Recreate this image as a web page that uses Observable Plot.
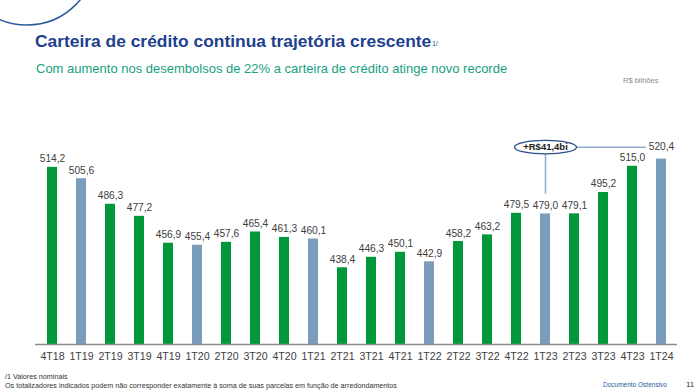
<!DOCTYPE html>
<html>
<head>
<meta charset="utf-8">
<script src="https://cdn.jsdelivr.net/npm/d3@7"></script>
<script src="https://cdn.jsdelivr.net/npm/@observablehq/plot@0.6"></script>
<style>
  html, body { margin: 0; padding: 0; background: #fff; }
  body { width: 700px; height: 391px; position: relative; overflow: hidden;
         font-family: "Liberation Sans", Arial, sans-serif; }
  .abs { position: absolute; line-height: 1; white-space: nowrap; }
  #title { left: 35px; top: 33px; font-size: 17.4px; font-weight: bold; color: #213f8d; }
  #title sup { font-size: 6.5px; font-weight: normal; vertical-align: 0; position: relative; top: -1px; margin-left: 1px; }
  #subtitle { left: 36px; top: 61.7px; font-size: 13px; color: #17a07f; }
  #unit { left: 623px; top: 77px; font-size: 7.5px; color: #8a8a8a; }
  #chart { position: absolute; left: 0; top: 88px; }
  #note1 { left: 5px; top: 372.5px; font-size: 7.2px; color: #333; }
  #note2 { left: 5px; top: 381.5px; font-size: 7.2px; color: #333; }
  #doc { left: 603px; top: 382px; font-size: 6.5px; color: #2a5aa0; }
  #page { left: 686px; top: 381px; font-size: 8px; color: #333; }
</style>
</head>
<body>
<svg class="abs" width="100" height="30" style="left:0;top:0">
  <circle cx="27" cy="-43.7" r="68.7" fill="none" stroke="#2d5aa0" stroke-width="1.5"></circle>
</svg>
<div id="title" class="abs">Carteira de crédito continua trajetória crescente<sup>1/</sup></div>
<div id="subtitle" class="abs">Com aumento nos desembolsos de 22% a carteira de crédito atinge novo recorde</div>
<div id="unit" class="abs">R$ bilhões</div>
<div id="chart"></div>
<div id="note1" class="abs">/1 Valores nominais</div>
<div id="note2" class="abs">Os totalizadores indicados podem não corresponder exatamente à soma de suas parcelas em função de arredondamentos</div>
<div id="doc" class="abs">Documento Ostensivo</div>
<div id="page" class="abs">11</div>
<script>
const quarters = ["4T18","1T19","2T19","3T19","4T19","1T20","2T20","3T20","4T20","1T21","2T21","3T21","4T21","1T22","2T22","3T22","4T22","1T23","2T23","3T23","4T23","1T24"];
const values = [514.2,505.6,486.3,477.2,456.9,455.4,457.6,465.4,461.3,460.1,438.4,446.3,450.1,442.9,458.2,463.2,479.5,479.0,479.1,495.2,515.0,520.4];

const GREEN = "#00983a";
const BLUE = "#7b9dbc";

const data = quarters.map((q, i) => ({q, v: values[i]}));
const last = data[data.length - 1];
const prev = data[data.length - 5]; // same quarter one year earlier
const locale = d3.formatLocale({decimal: ",", thousands: ".", grouping: [3], currency: ["R$", ""]});
const fmt = locale.format(".1f");
const delta = "+R$" + fmt(last.v - prev.v) + "bi";

const yBase = 380.5;
const yTop = 545;
const annY = d3.max(values) + 9;

const ellipseSymbol = {
  draw(ctx) {
    const rx = 31, ry = 6.7, k = 0.5523;
    ctx.moveTo(rx, 0);
    ctx.bezierCurveTo(rx, k * ry, k * rx, ry, 0, ry);
    ctx.bezierCurveTo(-k * rx, ry, -rx, k * ry, -rx, 0);
    ctx.bezierCurveTo(-rx, -k * ry, -k * rx, -ry, 0, -ry);
    ctx.bezierCurveTo(k * rx, -ry, rx, -k * ry, rx, 0);
    ctx.closePath();
  }
};

const chart = Plot.plot({
  width: 700,
  height: 284,
  marginLeft: 35,
  marginRight: 23,
  marginTop: 38,
  marginBottom: 28,
  x: {domain: quarters, paddingInner: 0.67, paddingOuter: 0.335, align: 0.5, label: null},
  y: {domain: [yBase, yTop], axis: null},
  style: {fontFamily: "'Liberation Sans', Arial, sans-serif", background: "white", overflow: "visible"},
  marks: [
    Plot.barY(data, {x: "q", y1: yBase, y2: "v", fill: d => d.q.startsWith("1T") ? BLUE : GREEN}),
    Plot.ruleY([yBase], {stroke: "#8c8c8c", strokeWidth: 1.5}),
    Plot.axisX({tickSize: 0, tickPadding: 8, fontSize: 10.6, fill: "#404040", label: null}),
    Plot.text(data.slice(0, -1), {x: "q", y: "v", text: d => fmt(d.v), dy: -5, lineAnchor: "bottom", fontSize: 10.2, fill: "#404040"}),
    Plot.ruleX([prev], {x: "q", y1: d => d.v + 15, y2: annY, stroke: "#8eaacb", strokeWidth: 1.5}),
    Plot.link([prev], {x1: "q", x2: () => last.q, y1: annY, y2: annY, stroke: "#8eaacb", strokeWidth: 1.5}),
    Plot.dot([prev], {x: "q", y: annY, symbol: ellipseSymbol, fill: "white", stroke: "#2b4f8c", strokeWidth: 1.3}),
    Plot.text([prev], {x: "q", y: annY, text: () => delta, fontWeight: "bold", fontSize: 9.5, fill: "#222", lineAnchor: "middle"}),
    Plot.text([last], {x: "q", y: annY, text: d => fmt(d.v), lineAnchor: "middle", fontSize: 10.2, fill: "#404040", stroke: "white", strokeWidth: 7})
  ]
});
document.getElementById("chart").appendChild(chart);
</script>
</body>
</html>
